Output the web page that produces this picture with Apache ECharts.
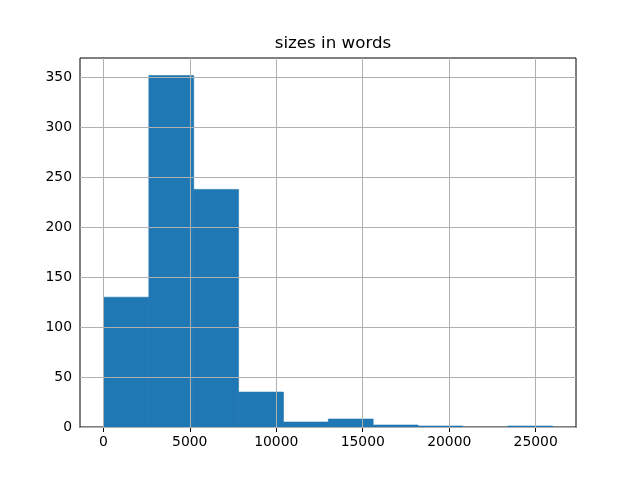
<!DOCTYPE html>
<html>
<head>
<meta charset="utf-8">
<script src="https://cdn.jsdelivr.net/npm/echarts@6/dist/echarts.min.js"></script>
<style>html,body{margin:0;padding:0;background:#fff}#c{width:640px;height:480px}</style>
</head>
<body>
<div id="c"></div>
<script>
var binStart = 40;
var binWidth = 2594;
var counts = [130, 352, 238, 35, 5, 8, 2, 1, 0, 1];
var xTicks = [0, 5000, 10000, 15000, 20000, 25000];
var yTicks = [0, 50, 100, 150, 200, 250, 300, 350];
var xRange = [-1347, 27330];
var titleText = 'sizes in words';

var bins = counts.map(function (c, i) {
  return [binStart + i * binWidth, binStart + (i + 1) * binWidth, c];
});
var yMax = Math.max.apply(null, counts) * 1.05;

var gridLines = xTicks.map(function (v) { return { xAxis: v }; })
  .concat(yTicks.map(function (v) { return { yAxis: v }; }));

var font = 'DejaVu Sans';
var chart = echarts.init(document.getElementById('c'), null, { renderer: 'canvas' });
chart.setOption({
  animation: false,
  title: {
    text: titleText, left: 328, top: 30, textAlign: 'center',
    textStyle: { fontFamily: font, fontSize: 16.7, fontWeight: 'normal', color: '#000' }
  },
  grid: { left: 80, right: 64, top: 58, bottom: 53, show: true, borderColor: '#000', borderWidth: 1, backgroundColor: 'transparent' },
  xAxis: {
    type: 'value', min: xRange[0], max: xRange[1],
    axisLine: { show: true, onZero: false, lineStyle: { color: '#000', width: 1 } },
    axisTick: { show: true, inside: false, length: 5, customValues: xTicks, lineStyle: { color: '#000' } },
    axisLabel: { customValues: xTicks, margin: 8, color: '#000', fontFamily: font, fontSize: 13.9,
      formatter: function (v) { return String(v); } },
    splitLine: { show: false }
  },
  yAxis: {
    type: 'value', min: 0, max: yMax,
    axisLine: { show: true, lineStyle: { color: '#000', width: 1 } },
    axisTick: { show: true, inside: false, length: 5, customValues: yTicks, lineStyle: { color: '#000' } },
    axisLabel: { customValues: yTicks, margin: 8, color: '#000', fontFamily: font, fontSize: 13.9,
      formatter: function (v) { return String(v); } },
    splitLine: { show: false }
  },
  series: [{
    type: 'custom',
    data: bins,
    clip: true,
    renderItem: function (params, api) {
      if (!(api.value(2) > 0)) return null;
      var p0 = api.coord([api.value(0), api.value(2)]);
      var p1 = api.coord([api.value(1), 0]);
      return {
        type: 'rect',
        shape: { x: p0[0], y: p0[1], width: p1[0] - p0[0], height: p1[1] - p0[1] },
        style: { fill: '#1f77b4', stroke: '#1f77b4', lineWidth: 0.6 }
      };
    },
    encode: { x: [0, 1], y: 2 },
    markLine: {
      silent: true, symbol: 'none', z: 10,
      label: { show: false },
      lineStyle: { color: '#b0b0b0', width: 1, type: 'solid' },
      data: gridLines
    }
  }]
});
</script>
</body>
</html>
